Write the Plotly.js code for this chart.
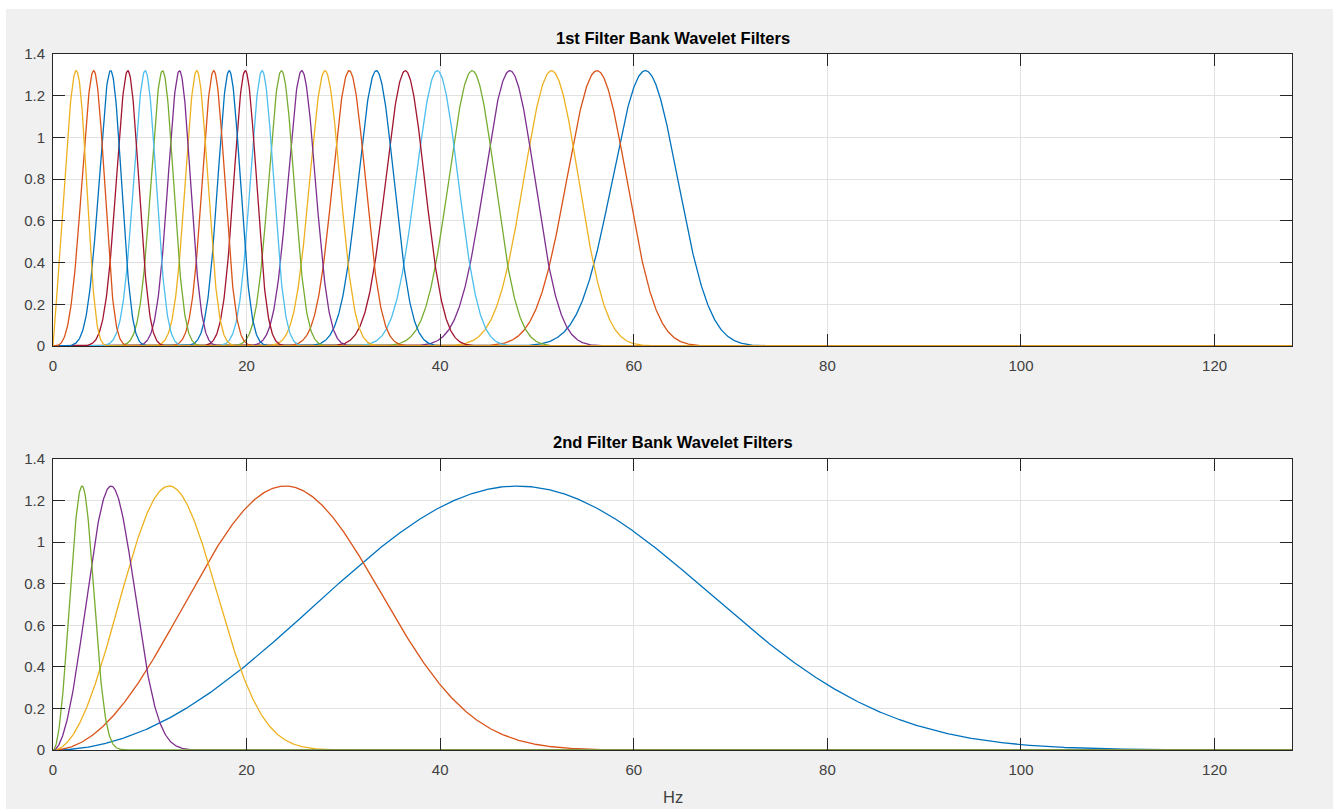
<!DOCTYPE html>
<html>
<head>
<meta charset="utf-8">
<script src="https://cdn.plot.ly/plotly-3.0.1.min.js"></script>
<style>
  html, body { margin: 0; padding: 0; background: #ffffff; overflow: hidden; }
  #fig { position: absolute; left: 6px; top: 9px; width: 1327px; height: 800px; }
</style>
</head>
<body>
<div id="fig"></div>
<script>
// First filter bank: centre frequencies (Hz), in plotting order (highest first)
const bank1Centers = [61.2, 56.2, 51.5, 47.2, 43.3, 39.7, 36.4, 33.4, 30.6, 28.1, 25.7, 23.6,
                      21.6, 19.86, 18.2, 16.6, 14.85, 13.06, 11.31, 9.52, 7.73, 5.95, 4.2, 2.4];
// First filter bank: bandwidths (Hz)
const bank1Widths  = [3.37, 3.09, 2.83, 2.60, 2.38, 2.18, 2.00, 1.84, 1.68, 1.55, 1.41, 1.30,
                      1.19, 1.15, 1.15, 1.15, 1.15, 1.15, 1.15, 1.15, 1.15, 1.15, 1.15, 1.15];
const bank1Peak = 1.32;
const bank1Gamma = 4;

// Second filter bank
const bank2Centers = [48, 24, 12, 6, 3];
const bank2Widths  = [19.6, 9.8, 4.9, 2.45, 1.22];
const bank2Peak = 1.27;
const bank2Gamma = 3;

const xTicks = [0, 20, 40, 60, 80, 100, 120];
const yTicks = [0, 0.2, 0.4, 0.6, 0.8, 1, 1.2, 1.4];
const fMax = 128;

const palette = ['#0072BD', '#D95319', '#EDB120', '#7E2F8E', '#77AC30', '#4DBEEE', '#A2142F'];

// frequency grid
const freqs = [];
for (let i = 0; i <= 2560; i++) freqs.push(i * fMax / 2560);

// Morse-type analytic filter, peak at fc with the given height
function filterResponse(fc, width, peak, gamma) {
  const beta = (fc * fc) / (gamma * width * width);
  return freqs.map(f => {
    if (f <= 0) return 0;
    const x = f / fc;
    return peak * Math.exp(beta * Math.log(x) + (beta / gamma) * (1 - Math.pow(x, gamma)));
  });
}

const traces = [];
bank1Centers.forEach((fc, i) => {
  traces.push({
    x: freqs, y: filterResponse(fc, bank1Widths[i], bank1Peak, bank1Gamma),
    type: 'scatter', mode: 'lines', xaxis: 'x', yaxis: 'y',
    line: { color: palette[i % palette.length], width: 1.3 },
    hoverinfo: 'skip', showlegend: false
  });
});
bank2Centers.forEach((fc, i) => {
  traces.push({
    x: freqs, y: filterResponse(fc, bank2Widths[i], bank2Peak, bank2Gamma),
    type: 'scatter', mode: 'lines', xaxis: 'x2', yaxis: 'y2',
    line: { color: palette[i % palette.length], width: 1.3 },
    hoverinfo: 'skip', showlegend: false
  });
});

const tickFont = { family: 'Liberation Sans, Arial, sans-serif', size: 15, color: '#404040' };

function xAxis(anchor) {
  return {
    anchor: anchor, range: [0, fMax], tickvals: xTicks, ticktext: xTicks.map(String),
    ticks: 'inside', ticklen: 12, tickwidth: 1, tickcolor: '#262626',
    showline: true, linecolor: '#262626', linewidth: 1, mirror: 'ticks',
    showgrid: true, gridcolor: '#e2e2e2', gridwidth: 1, zeroline: false,
    tickfont: tickFont, ticklabelstandoff: 6, fixedrange: true
  };
}
function yAxis(anchor, domain) {
  return {
    anchor: anchor, domain: domain, range: [0, 1.4], tickvals: yTicks, ticktext: yTicks.map(String),
    ticks: 'inside', ticklen: 12, tickwidth: 1, tickcolor: '#262626',
    showline: true, linecolor: '#262626', linewidth: 1, mirror: 'ticks',
    showgrid: true, gridcolor: '#e2e2e2', gridwidth: 1, zeroline: false,
    tickfont: tickFont, ticklabelstandoff: 4, fixedrange: true
  };
}

const titleFont = { family: 'Liberation Sans, Arial, sans-serif', size: 16.5, color: '#000000' };

const layout = {
  width: 1327, height: 800,
  paper_bgcolor: '#f0f0f0', plot_bgcolor: '#ffffff',
  margin: { l: 47, r: 41, t: 45, b: 59 },
  showlegend: false,
  xaxis: xAxis('y'),
  yaxis: yAxis('x', [0.5805, 1]),
  xaxis2: xAxis('y2'),
  yaxis2: yAxis('x2', [0, 0.4181]),
  annotations: [
    { text: '<b>1st Filter Bank Wavelet Filters</b>', xref: 'paper', yref: 'paper',
      x: 0.5, y: 1.023, xanchor: 'center', yanchor: 'middle', showarrow: false, font: titleFont },
    { text: '<b>2nd Filter Bank Wavelet Filters</b>', xref: 'paper', yref: 'paper',
      x: 0.5, y: 0.4425, xanchor: 'center', yanchor: 'middle', showarrow: false, font: titleFont },
    { text: 'Hz', xref: 'paper', yref: 'paper', x: 0.5, y: -0.0675,
      xanchor: 'center', yanchor: 'middle', showarrow: false,
      font: { family: 'Liberation Sans, Arial, sans-serif', size: 16.5, color: '#404040' } }
  ]
};

Plotly.newPlot('fig', traces, layout, { staticPlot: true, displayModeBar: false });
</script>
</body>
</html>
